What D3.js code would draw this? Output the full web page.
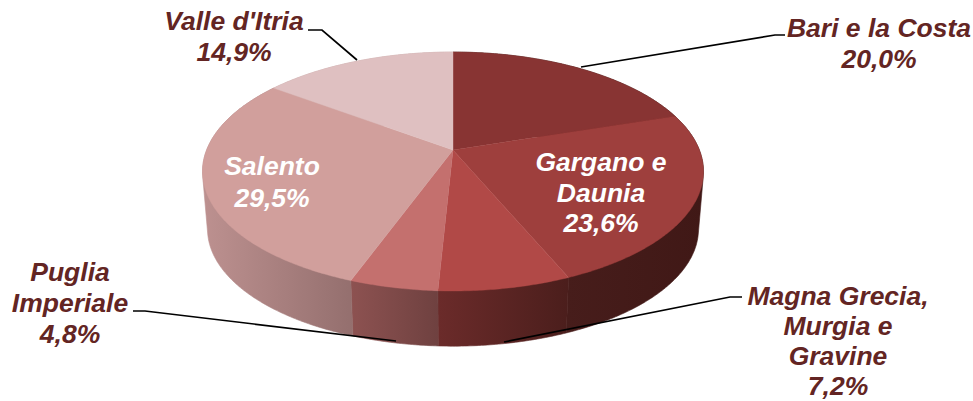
<!DOCTYPE html>
<html>
<head>
<meta charset="utf-8">
<script src="https://cdn.jsdelivr.net/npm/d3@7"></script>
<style>
  html, body { margin: 0; padding: 0; background: #fff; }
  svg { display: block; }
  text { font-family: "Liberation Sans", Arial, sans-serif; font-weight: bold; font-style: italic; font-size: 26.5px; text-anchor: middle; }
</style>
</head>
<body>
<div id="chart"></div>
<script>
// Slices, clockwise from 12 o'clock
const categories = ["Bari e la Costa", "Gargano e Daunia", "Magna Grecia, Murgia e Gravine", "Puglia Imperiale", "Salento", "Valle d'Itria"];
const shares = [20.0, 23.6, 7.2, 4.8, 29.5, 14.9];
const topColors = ["#883433", "#9e3f3d", "#b14947", "#c4706e", "#d19f9c", "#dfc0c1"];
const wallFrom = ["#4a1f1d", "#471d1b", "#6b2b2a", "#8d5251", "#bd9190", "#c9a9a9"];
const wallTo = ["#421917", "#401816", "#4b1e1c", "#6f4140", "#946f6e", "#c9a9a9"];

// Label text, split in lines, and where each block sits
const labelLines = [
  ["Bari e la Costa", "20,0%"],
  ["Gargano e", "Daunia", "23,6%"],
  ["Magna Grecia,", "Murgia e", "Gravine", "7,2%"],
  ["Puglia", "Imperiale", "4,8%"],
  ["Salento", "29,5%"],
  ["Valle d'Itria", "14,9%"]
];
const labelX = [879, 601, 838, 70, 272, 234];
const labelY = [37, 171, 305, 281, 175, 30];
const labelStep = [31, 30.5, 30, 31, 32, 31];
const labelColors = ["#632523", "#fff", "#632523", "#632523", "#fff", "#632523"];

const leaders = [
  [[581, 67], [775, 35], [785, 35]],
  [[504, 342], [730, 297], [742, 297]],
  [[133, 311], [145, 311], [396, 341]],
  [[357, 60], [322, 30], [308, 30]]
];

const width = 973;
const height = 401;

// Tilted disc: a unit circle seen in perspective, the near edge bigger
const centerX = 453;
const topY = 150;
const bottomY = 208;
const radiusX = 246.4;
const radiusY = 115.6;
const tilt = 0.18;
const wallScale = 0.98;

function rimPoint(angle, y0, scale) {
  const w = 1 + tilt * Math.cos(angle);
  return [
    centerX + scale * radiusX * Math.sin(angle) / w,
    y0 - scale * radiusY * Math.cos(angle) / w
  ];
}

function rim(start, end, y0, scale) {
  const steps = Math.max(2, Math.ceil((end - start) / 0.01));
  return d3.range(steps + 1).map(i => rimPoint(start + (end - start) * i / steps, y0, scale));
}

const svg = d3.select("#chart").append("svg")
  .attr("width", width)
  .attr("height", height);

const slices = d3.pie().sort(null).value(d => d)(shares);
const line = d3.line();
const defs = svg.append("defs");

defs.selectAll("linearGradient")
  .data(slices)
  .join("linearGradient")
  .attr("id", (d, i) => `wall${i}`)
  .each(function(d, i) {
    d3.select(this).append("stop").attr("offset", 0).attr("stop-color", wallFrom[i]);
    d3.select(this).append("stop").attr("offset", 1).attr("stop-color", wallTo[i]);
  });

// Walls first, the top face hides their far side.
// Hull so the outline runs straight between the two rims at the sides.
svg.append("g").selectAll("path")
  .data(slices)
  .join("path")
  .attr("fill", (d, i) => `url(#wall${i})`)
  .attr("stroke", (d, i) => `url(#wall${i})`)
  .attr("stroke-width", 0.6)
  .attr("d", d => line(d3.polygonHull([
    ...rim(d.startAngle, d.endAngle, topY, 1),
    ...rim(d.startAngle, d.endAngle, bottomY, wallScale)
  ])) + "Z");

svg.append("g").selectAll("path")
  .data(slices)
  .join("path")
  .attr("fill", (d, i) => topColors[i])
  .attr("stroke", (d, i) => topColors[i])
  .attr("stroke-width", 0.4)
  .attr("d", d => line([[centerX, topY], ...rim(d.startAngle, d.endAngle, topY, 1)]) + "Z");

svg.append("g").selectAll("path")
  .data(leaders)
  .join("path")
  .attr("fill", "none")
  .attr("stroke", "#000")
  .attr("stroke-width", 1.7)
  .attr("d", line);

const labels = svg.append("g").selectAll("text")
  .data(categories)
  .join("text")
  .attr("fill", (d, i) => labelColors[i]);

labels.each(function(d, i) {
  d3.select(this).selectAll("tspan")
    .data(labelLines[i])
    .join("tspan")
    .attr("x", labelX[i])
    .attr("y", (t, j) => labelY[i] + j * labelStep[i])
    .text(t => t);
});
</script>
</body>
</html>
